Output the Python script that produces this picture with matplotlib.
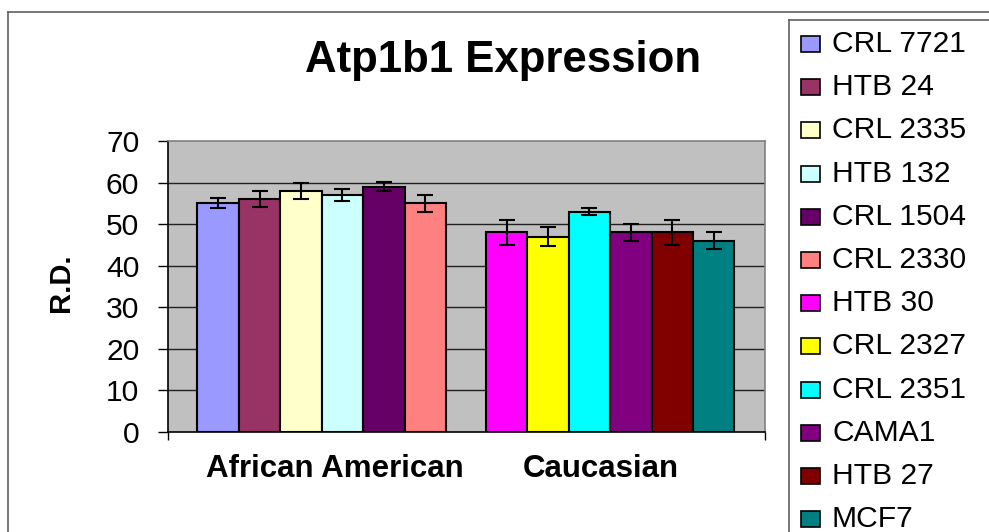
import matplotlib
matplotlib.use("Agg")
import matplotlib.pyplot as plt
from matplotlib.patches import Rectangle
from matplotlib.lines import Line2D

# ---- data ----
title = "Atp1b1 Expression"
ylabel = "R.D."
categories = ["African American", "Caucasian"]
series_names = ["CRL 7721", "HTB 24", "CRL 2335", "HTB 132", "CRL 1504", "CRL 2330",
                "HTB 30", "CRL 2327", "CRL 2351", "CAMA1", "HTB 27", "MCF7"]
series_group = [0, 0, 0, 0, 0, 0, 1, 1, 1, 1, 1, 1]
values = [55, 56, 58, 57, 59, 55, 48, 47, 53, 48, 48, 46]
errors = [1.2, 1.9, 2.0, 1.5, 1.1, 2.0, 3.0, 2.2, 0.9, 2.0, 3.0, 2.0]
colors = ["#9999FF", "#993366", "#FFFFCC", "#CCFFFF", "#660066", "#FF8080",
          "#FF00FF", "#FFFF00", "#00FFFF", "#800080", "#800000", "#008080"]
yticks = [0, 10, 20, 30, 40, 50, 60, 70]

W, H = 989, 532
fig = plt.figure(figsize=(W / 100, H / 100), dpi=100)
FONT = "Liberation Sans"
plt.rcParams["font.family"] = [FONT, "DejaVu Sans"]

def px(x):
    return x / W

def py(y):
    return 1 - y / H

# outer chart frame
fig.add_artist(Line2D([px(8), px(989)], [py(12), py(12)], color="#606060", lw=1.2,
                      transform=fig.transFigure))
fig.add_artist(Line2D([px(8), px(8)], [py(12), py(532)], color="#606060", lw=1.2,
                      transform=fig.transFigure))

ax = fig.add_axes([px(168), py(432), px(765) - px(168), py(141) - py(432)])
ax.set_facecolor("#C0C0C0")

bw = 0.1436
counts = {}
for i, (name, g, v, e, c) in enumerate(zip(series_names, series_group, values, errors, colors)):
    k = counts.get(g, 0)
    counts[g] = k + 1
    xpos = g + (k - 2.5) * bw
    ax.bar(xpos, v, width=bw, color=c, edgecolor="black", linewidth=1.5, zorder=3, label=name)
    ax.errorbar(xpos, v, yerr=e, fmt="none", ecolor="black", elinewidth=1.5,
                capsize=6, capthick=1.5, zorder=4)

ax.set_xlim(-0.533, 1.537)
ax.set_ylim(0, 70)
ax.set_yticks(yticks)
ax.set_yticklabels([str(t) for t in yticks], fontsize=21.6, fontfamily=FONT)
ax.tick_params(axis="y", direction="out", length=7.2, width=1, pad=13.5, color="black")
ax.set_xticks([-0.533, 1.537])
ax.set_xticklabels(["", ""])
ax.tick_params(axis="x", direction="out", length=6, width=1, color="black")
for t in yticks[1:-1]:
    ax.axhline(t, color="#202020", lw=1, zorder=1)

ax.spines["left"].set_color("black")
ax.spines["bottom"].set_color("black")
ax.spines["top"].set_color("#808080")
ax.spines["right"].set_color("#808080")
for s in ax.spines.values():
    s.set_linewidth(1.2)

# category labels
cat_x = [335, 601]
for cx, lab in zip(cat_x, categories):
    fig.text(px(cx), py(477), lab, ha="center", va="baseline", fontsize=22.5,
             fontweight="bold", fontfamily=FONT)

# title and y label
fig.text(px(503), py(72), title, ha="center", va="baseline", fontsize=31.5,
         fontweight="bold", fontfamily=FONT)
fig.text(px(61), py(283), ylabel, ha="center", va="center", rotation=90, fontsize=21,
         fontweight="bold", fontfamily=FONT)

# legend (manually laid out)
fig.add_artist(Line2D([px(789), px(989)], [py(20), py(20)], color="#606060", lw=1.2,
                      transform=fig.transFigure))
fig.add_artist(Line2D([px(789), px(789)], [py(20), py(532)], color="#606060", lw=1.2,
                      transform=fig.transFigure))
for i, (name, c) in enumerate(zip(series_names, colors)):
    yc = 44 + 43.2 * i
    fig.add_artist(Rectangle((px(801), py(yc + 8)), px(19), 16 / H, facecolor=c,
                             edgecolor="black", linewidth=1.2, transform=fig.transFigure))
    fig.text(px(832), py(52 + 43.2 * i), name, ha="left", va="baseline", fontsize=21.6,
             fontfamily=FONT)

fig.savefig("out.png", dpi=100)
